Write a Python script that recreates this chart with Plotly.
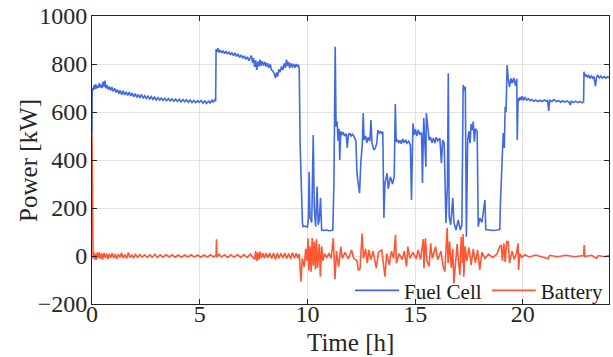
import plotly.graph_objects as go

# Fuel cell power [kW] vs time [h]
fuel_cell = [
    (0.00, 510), (0.01, 700), (0.05, 690), (0.10, 712), (0.13, 694), (0.17, 716), (0.22, 698),
    (0.26, 709), (0.30, 701), (0.34, 720), (0.38, 703), (0.42, 714), (0.47, 700), (0.52, 726),
    (0.56, 706), (0.60, 731), (0.64, 699), (0.69, 713), (0.74, 694), (0.80, 706), (0.86, 690),
    (0.92, 704), (0.98, 686), (1.05, 699), (1.12, 681), (1.18, 694), (1.25, 676), (1.31, 690),
    (1.38, 672), (1.44, 689), (1.52, 671), (1.58, 684), (1.66, 669), (1.73, 683), (1.80, 667),
    (1.86, 679), (1.94, 663), (2.01, 677), (2.08, 661), (2.15, 672), (2.22, 659), (2.30, 673),
    (2.37, 657), (2.45, 668), (2.52, 656), (2.60, 666), (2.68, 653), (2.75, 664), (2.83, 652),
    (2.90, 662), (2.98, 650), (3.06, 660), (3.14, 649), (3.22, 658), (3.30, 648), (3.38, 657),
    (3.46, 647), (3.55, 656), (3.63, 646), (3.71, 655), (3.80, 645), (3.88, 654), (3.96, 644),
    (4.05, 653), (4.13, 643), (4.22, 652), (4.30, 643), (4.38, 651), (4.47, 641), (4.56, 650),
    (4.64, 640), (4.73, 648), (4.81, 639), (4.90, 647), (4.98, 640), (5.07, 648), (5.15, 637),
    (5.24, 646), (5.32, 636), (5.41, 645), (5.49, 638), (5.57, 650), (5.63, 640), (5.70, 652),
    (5.74, 645), (5.76, 862), (5.80, 850), (5.85, 866), (5.90, 848), (5.96, 858), (6.02, 846),
    (6.08, 856), (6.15, 843), (6.22, 854), (6.29, 841), (6.36, 851), (6.43, 838), (6.50, 848),
    (6.57, 835), (6.64, 846), (6.71, 831), (6.78, 842), (6.85, 827), (6.92, 838), (7.00, 824),
    (7.07, 834), (7.14, 819), (7.21, 830), (7.28, 814), (7.35, 826), (7.40, 835), (7.45, 806),
    (7.50, 825), (7.55, 788), (7.60, 815), (7.65, 775), (7.70, 810), (7.75, 790), (7.80, 818),
    (7.85, 792), (7.90, 812), (7.96, 794), (8.02, 808), (8.08, 790), (8.14, 804), (8.20, 784),
    (8.27, 800), (8.33, 776), (8.40, 770), (8.46, 760), (8.52, 742), (8.57, 765), (8.62, 748),
    (8.67, 778), (8.73, 766), (8.80, 790), (8.86, 775), (8.92, 802), (8.98, 784), (9.03, 818),
    (9.08, 792), (9.13, 808), (9.18, 783), (9.24, 803), (9.30, 786), (9.36, 801), (9.42, 784),
    (9.48, 800), (9.54, 788), (9.58, 797), (9.62, 780), (9.66, 470),
    (9.70, 358), (9.74, 192), (9.77, 137), (9.80, 122), (9.90, 125), (10.00, 120), (10.05, 160),
    (10.08, 351), (10.12, 163), (10.20, 140), (10.27, 504), (10.32, 200), (10.38, 122),
    (10.45, 289), (10.50, 130), (10.55, 150), (10.61, 242), (10.66, 108), (10.80, 106),
    (10.90, 108), (11.00, 105), (11.10, 106), (11.18, 108), (11.23, 304), (11.29, 872),
    (11.33, 539), (11.38, 560), (11.42, 480), (11.47, 530), (11.50, 400), (11.55, 520),
    (11.60, 504), (11.66, 516), (11.72, 500), (11.80, 510), (11.85, 450), (11.90, 505),
    (11.96, 512), (12.02, 498), (12.08, 508), (12.15, 500), (12.25, 480), (12.30, 345),
    (12.36, 300), (12.42, 262), (12.48, 390), (12.55, 470), (12.59, 596), (12.63, 483),
    (12.70, 500), (12.76, 472), (12.82, 495), (12.90, 478), (12.95, 567), (13.00, 470),
    (13.08, 442), (13.15, 450), (13.22, 470), (13.27, 525), (13.33, 510), (13.40, 520),
    (13.46, 508), (13.50, 518), (13.55, 158), (13.60, 304), (13.70, 345), (13.75, 280),
    (13.85, 330), (13.95, 300), (14.03, 330), (14.06, 471), (14.08, 633), (14.12, 476),
    (14.18, 485), (14.24, 470), (14.30, 482), (14.36, 468), (14.42, 488), (14.50, 472),
    (14.56, 484), (14.62, 470), (14.70, 478), (14.78, 462), (14.83, 233), (14.90, 553),
    (14.96, 505), (15.02, 528), (15.08, 500), (15.15, 525), (15.22, 505), (15.30, 515),
    (15.34, 304), (15.40, 575), (15.45, 420), (15.50, 372), (15.52, 596), (15.58, 539),
    (15.65, 483), (15.71, 496), (15.78, 472), (15.85, 492), (15.92, 470), (15.98, 495),
    (16.05, 480), (16.15, 490), (16.22, 387), (16.28, 483), (16.35, 470), (16.43, 137),
    (16.50, 300), (16.54, 761), (16.58, 164), (16.65, 130), (16.75, 242), (16.80, 140),
    (16.90, 108), (17.00, 150), (17.10, 108), (17.17, 130), (17.23, 712), (17.28, 690),
    (17.33, 705), (17.38, 80), (17.44, 483), (17.50, 520), (17.55, 470), (17.60, 550),
    (17.65, 525), (17.70, 560), (17.75, 476), (17.80, 530), (17.88, 520), (17.93, 122),
    (18.00, 158), (18.10, 140), (18.24, 233), (18.28, 110), (18.40, 108), (18.60, 106),
    (18.80, 108), (18.93, 110), (18.96, 221), (19.04, 387), (19.09, 512), (19.14, 450),
    (19.18, 622), (19.22, 600), (19.27, 796), (19.32, 740), (19.38, 705), (19.45, 740),
    (19.50, 720), (19.58, 742), (19.65, 710), (19.72, 738), (19.74, 483), (19.78, 657),
    (19.82, 646), (19.87, 662), (19.92, 650), (19.97, 666), (20.03, 648), (20.10, 660),
    (20.18, 650), (20.26, 656), (20.34, 647), (20.42, 652), (20.50, 645), (20.60, 650),
    (20.70, 644), (20.80, 649), (20.90, 644), (21.00, 650), (21.10, 645), (21.15, 650),
    (21.20, 605), (21.25, 648), (21.35, 644), (21.45, 652), (21.55, 643), (21.65, 648),
    (21.75, 641), (21.85, 647), (21.95, 641), (22.05, 646), (22.15, 640), (22.20, 629),
    (22.25, 645), (22.35, 639), (22.45, 645), (22.55, 639), (22.65, 644), (22.75, 638),
    (22.82, 642), (22.84, 768), (22.88, 748), (22.94, 756), (23.00, 744), (23.06, 752),
    (23.12, 742), (23.18, 750), (23.24, 741), (23.30, 748), (23.37, 708), (23.42, 745),
    (23.48, 752), (23.55, 742), (23.62, 750), (23.70, 741), (23.78, 748), (23.86, 740),
    (23.93, 747), (24.00, 743),
]

# Battery power [kW] vs time [h]
battery = [
    (0.00, 510), (0.02, 20), (0.05, -10), (0.08, 18), (0.12, -14), (0.16, 9), (0.20, -16),
    (0.24, 14), (0.29, -9), (0.34, 16), (0.39, -12), (0.45, 11), (0.50, -14), (0.56, 13),
    (0.62, -8), (0.68, 10), (0.74, -13), (0.80, 9), (0.87, -7), (0.94, 12), (1.01, -9),
    (1.08, 8), (1.15, -11), (1.22, 7), (1.30, -6), (1.37, 13), (1.45, -8), (1.53, 6),
    (1.61, -10), (1.69, 15), (1.77, -7), (1.85, 6), (1.93, -9), (2.02, 7), (2.12, -6),
    (2.22, 6), (2.33, -5), (2.44, 5), (2.56, -6), (2.68, 5), (2.80, -5), (2.92, 7),
    (3.04, -6), (3.16, 5), (3.30, -5), (3.44, 6), (3.58, -4), (3.72, 5), (3.86, -5),
    (4.00, 4), (4.15, -5), (4.30, 4), (4.45, -4), (4.60, 5), (4.75, -4), (4.90, 4),
    (5.05, -5), (5.20, 4), (5.35, -4), (5.50, 5), (5.65, -4), (5.76, 4), (5.78, 70),
    (5.80, -5), (5.90, 8), (6.00, -4), (6.15, 5), (6.30, -6), (6.45, 5), (6.60, -5),
    (6.75, 6), (6.90, -6), (7.05, 6), (7.20, -7), (7.35, 8), (7.50, -10), (7.55, -12),
    (7.60, 20), (7.65, -20), (7.70, 15), (7.75, -15), (7.80, 18), (7.86, -8), (7.93, 12),
    (8.00, -9), (8.08, 11), (8.16, -8), (8.25, 12), (8.34, -10), (8.43, 13), (8.52, -15),
    (8.60, 12), (8.68, -9), (8.77, 11), (8.86, -8), (8.95, 12), (9.04, -10), (9.13, 10),
    (9.22, -11), (9.31, 13), (9.40, -9), (9.48, 11), (9.55, -8), (9.62, 8), (9.70, -107),
    (9.76, -10), (9.85, -45), (9.92, 30), (9.98, -20), (10.03, 74), (10.07, -60), (10.12, 40),
    (10.17, -65), (10.22, 75), (10.27, -40), (10.32, 60), (10.37, -55), (10.42, 70),
    (10.47, -50), (10.55, 50), (10.60, -86), (10.66, 40), (10.72, -20), (10.80, 10),
    (10.90, -8), (11.00, 12), (11.10, -10), (11.20, 74), (11.25, -15), (11.28, -97),
    (11.35, 20), (11.45, -44), (11.55, 39), (11.62, -10), (11.75, 15), (11.90, -12),
    (12.05, 25), (12.15, -10), (12.30, -20), (12.36, -58), (12.44, -55), (12.51, 53),
    (12.54, 94), (12.60, -10), (12.70, 30), (12.78, -30), (12.85, 25), (12.95, -15),
    (13.05, 20), (13.20, -51), (13.30, 15), (13.45, 25), (13.52, -20), (13.60, -86),
    (13.68, 10), (13.80, -37), (13.90, 20), (14.00, -10), (14.09, 88), (14.13, -30),
    (14.25, 10), (14.40, -15), (14.50, 20), (14.60, -44), (14.66, 39), (14.75, -10),
    (14.90, 15), (15.05, -12), (15.14, 25), (15.25, -15), (15.38, 70), (15.41, -51),
    (15.48, 74), (15.55, -20), (15.65, -44), (15.72, 53), (15.80, -10), (15.95, 39),
    (16.05, -15), (16.20, 20), (16.30, -44), (16.38, -65), (16.44, 40), (16.49, 118),
    (16.53, -30), (16.60, 60), (16.68, -50), (16.75, 30), (16.80, -114), (16.86, -40),
    (16.95, 50), (17.02, -30), (17.08, -79), (17.14, 80), (17.20, -30), (17.23, 92),
    (17.26, -86), (17.32, 40), (17.40, -20), (17.50, 35), (17.60, -37), (17.70, 30),
    (17.80, -30), (17.90, 25), (18.00, -58), (18.10, 15), (18.25, -10), (18.40, 8),
    (18.60, -6), (18.80, 8), (18.93, 40), (19.00, 46), (19.05, -20), (19.12, 53),
    (19.18, -25), (19.25, 60), (19.32, 60), (19.38, -30), (19.50, 20), (19.60, -15),
    (19.70, 10), (19.78, 53), (19.80, -58), (19.86, 10), (19.95, -5), (20.10, 5),
    (20.30, -4), (20.60, 4), (20.90, -4), (21.17, -12), (21.25, 3), (21.60, -3),
    (22.00, 3), (22.40, -3), (22.82, 2), (22.85, 46), (22.88, -2), (23.20, 3),
    (23.42, -10), (23.50, 2), (23.80, -3), (24.00, 2),
]

x_ticks = [0, 5, 10, 15, 20]
y_ticks = [-200, 0, 200, 400, 600, 800, 1000]
x_title = "Time [h]"
y_title = "Power [kW]"

FONT = "Liberation Serif"
BLUE = "#4169E1"
RED = "#FF5733"
TXT = "#262626"

fig = go.Figure()
fig.add_trace(go.Scatter(
    x=[p[0] for p in fuel_cell], y=[p[1] for p in fuel_cell],
    mode="lines", name="Fuel Cell", line=dict(color=BLUE, width=1.6)))
fig.add_trace(go.Scatter(
    x=[p[0] for p in battery], y=[p[1] for p in battery],
    mode="lines", name="Battery", line=dict(color=RED, width=1.6)))

axis_common = dict(
    showline=True, linecolor=TXT, linewidth=1, mirror="ticks",
    ticks="inside", ticklen=5, tickcolor=TXT,
    showgrid=True, gridcolor="#e3e3e3", gridwidth=1, zeroline=False,
    tickfont=dict(family=FONT, size=24, color=TXT),
    automargin=False,
)

fig.update_layout(
    width=613, height=357,
    margin=dict(l=92, r=4, t=16, b=53),
    paper_bgcolor="white", plot_bgcolor="white",
    font=dict(family=FONT, color=TXT),
    legend=dict(x=1, xanchor="right", y=-0.025, yanchor="bottom", orientation="h",
                bgcolor="rgba(0,0,0,0)", font=dict(family=FONT, size=21, color="#1a1a1a"),
                itemwidth=44, tracegroupgap=0),
    xaxis=dict(range=[0, 24], tickvals=x_ticks, ticklabelstandoff=-12, **axis_common),
    yaxis=dict(range=[-200, 1000], tickvals=y_ticks, ticklabelstandoff=-1, **axis_common),
    annotations=[
        dict(text=x_title, xref="paper", yref="paper", x=0.5, y=-0.08,
             xanchor="center", yanchor="top", showarrow=False,
             font=dict(family=FONT, size=25, color=TXT)),
        dict(text=y_title, xref="paper", yref="paper", x=-0.124, y=0.5,
             xanchor="center", yanchor="middle", textangle=-90, showarrow=False,
             font=dict(family=FONT, size=25, color=TXT)),
    ],
)

fig.write_html("out.html", config={"displayModeBar": False},
               post_script="document.body.style.margin='0';")
